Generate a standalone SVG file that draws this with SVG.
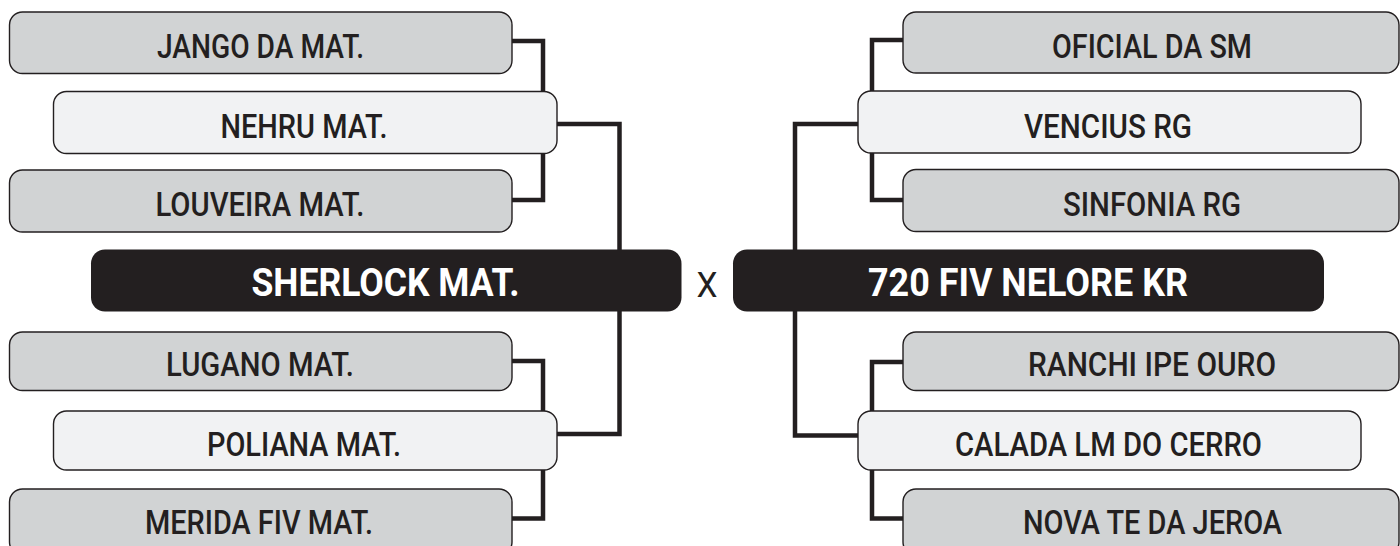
<svg xmlns="http://www.w3.org/2000/svg" width="1400" height="546" viewBox="0 0 1400 546">
<style>
.g{fill:#d1d3d4;stroke:#231f20;stroke-width:1.4}
.l{fill:#f1f2f3;stroke:#231f20;stroke-width:1.4}
.b{fill:#231f20}
.t{font-family:Roboto,"Liberation Sans",sans-serif;font-weight:500;font-size:33px;fill:#231f20;text-anchor:middle}
.bt{font-family:Roboto,"Liberation Sans",sans-serif;font-weight:700;font-size:38px;fill:#ffffff;text-anchor:middle}
.c{fill:none;stroke:#231f20;stroke-width:4.5;stroke-linejoin:miter;stroke-linecap:square}
</style>
<rect width="1400" height="546" fill="#ffffff"/>
<g id="connectors">
<path class="c" d="M512 41 H543 V200 H512"/>
<path class="c" d="M557 124 H619.5 V434 H557"/>
<path class="c" d="M512 361 H543 V518.5 H512"/>
<path class="c" d="M903 40 H872 V200 H903"/>
<path class="c" d="M858 124 H795 V435.5 H858"/>
<path class="c" d="M903 362 H872 V518.5 H903"/>
</g>
<g id="jango"><rect class="g" x="9.5" y="12" width="502.5" height="61.5" rx="13"/><text class="t" x="260.5" y="57.5" textLength="207" lengthAdjust="spacingAndGlyphs">JANGO DA MAT.</text></g>
<g id="nehru"><rect class="l" x="53.5" y="91.5" width="503.5" height="62" rx="13"/><text class="t" x="304" y="137.5" textLength="167" lengthAdjust="spacingAndGlyphs">NEHRU MAT.</text></g>
<g id="louveira"><rect class="g" x="9.5" y="170" width="502.5" height="62" rx="13"/><text class="t" x="260" y="216" textLength="209" lengthAdjust="spacingAndGlyphs">LOUVEIRA MAT.</text></g>
<g id="sherlock"><rect class="b" x="91" y="249.5" width="590.5" height="62" rx="14"/><text class="bt" x="385.5" y="296" textLength="268" lengthAdjust="spacingAndGlyphs">SHERLOCK MAT.</text></g>
<g id="lugano"><rect class="g" x="9.5" y="332" width="502.5" height="58.5" rx="13"/><text class="t" x="260" y="375.5" textLength="188" lengthAdjust="spacingAndGlyphs">LUGANO MAT.</text></g>
<g id="poliana"><rect class="l" x="53.5" y="411" width="503.5" height="59" rx="13"/><text class="t" x="304" y="455.5" textLength="194" lengthAdjust="spacingAndGlyphs">POLIANA MAT.</text></g>
<g id="merida"><rect class="g" x="9.5" y="489" width="502.5" height="66" rx="13"/><text class="t" x="259" y="534" textLength="228" lengthAdjust="spacingAndGlyphs">MERIDA FIV MAT.</text></g>
<g id="vs"><text x="707" y="297" style="font-family:Roboto,'Liberation Sans',sans-serif;font-size:35px;fill:#231f20;text-anchor:middle" textLength="21" lengthAdjust="spacingAndGlyphs">X</text></g>
<g id="oficial"><rect class="g" x="903" y="12" width="496" height="61" rx="13"/><text class="t" x="1152" y="57.5" textLength="200" lengthAdjust="spacingAndGlyphs">OFICIAL DA SM</text></g>
<g id="vencius"><rect class="l" x="858" y="91" width="503" height="62" rx="13"/><text class="t" x="1108" y="137.5" textLength="168" lengthAdjust="spacingAndGlyphs">VENCIUS RG</text></g>
<g id="sinfonia"><rect class="g" x="903" y="169.5" width="496" height="62" rx="13"/><text class="t" x="1152" y="215.5" textLength="178" lengthAdjust="spacingAndGlyphs">SINFONIA RG</text></g>
<g id="nelore"><rect class="b" x="733" y="249.5" width="591" height="62" rx="14"/><text class="bt" x="1028" y="296" textLength="320" lengthAdjust="spacingAndGlyphs">720 FIV NELORE KR</text></g>
<g id="ranchi"><rect class="g" x="903" y="332" width="496" height="58.5" rx="13"/><text class="t" x="1152" y="375.5" textLength="248" lengthAdjust="spacingAndGlyphs">RANCHI IPE OURO</text></g>
<g id="calada"><rect class="l" x="858" y="411" width="503" height="59" rx="13"/><text class="t" x="1108.5" y="455.5" textLength="307" lengthAdjust="spacingAndGlyphs">CALADA LM DO CERRO</text></g>
<g id="nova"><rect class="g" x="903" y="489" width="496" height="66" rx="13"/><text class="t" x="1152.5" y="534" textLength="259" lengthAdjust="spacingAndGlyphs">NOVA TE DA JEROA</text></g>
</svg>
